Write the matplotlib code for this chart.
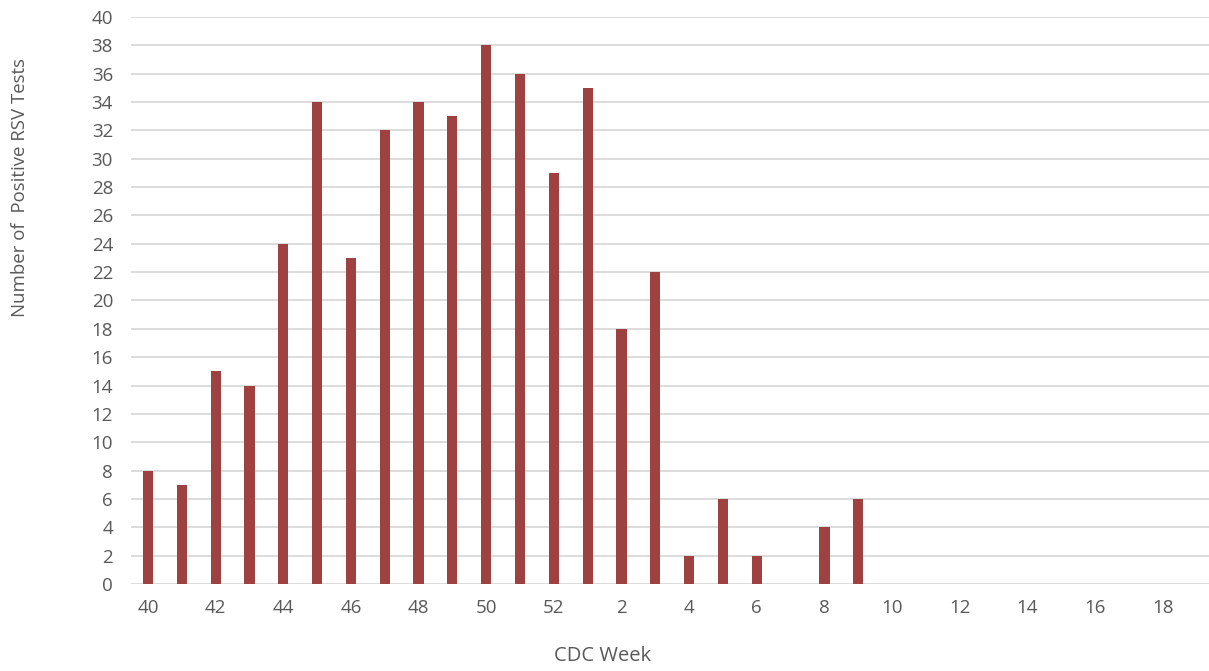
import numpy as np
import matplotlib
matplotlib.use("Agg")
import matplotlib.pyplot as plt

# CDC weeks 40-52 then 1-19
weeks = [str(w) for w in range(40, 53)] + [str(w) for w in range(1, 20)]
positives = [8, 7, 15, 14, 24, 34, 23, 32, 34, 33, 38, 36, 29,
             35, 18, 22, 2, 6, 2, 0, 4, 6,
             0, 0, 0, 0, 0, 0, 0, 0, 0, 0]

bar_color = "#9E4141"
grid_color = "#D9D9D9"
text_color = "#595959"

plt.rcParams['font.family'] = ['Open Sans', 'DejaVu Sans']

fig = plt.figure(figsize=(12.09, 6.71), dpi=100)
ax = fig.add_axes([0.1084, 0.1297, 0.8916, 0.845])

x = np.arange(len(weeks))
ax.bar(x, positives, width=0.3, color=bar_color, zorder=3)

ax.set_ylim(0, 40)
ax.set_yticks(range(0, 41, 2))
ax.set_xlim(-0.5, 31.37)
ax.set_xticks(x[::2])
ax.set_xticklabels(weeks[::2])

ax.grid(axis='y', color=grid_color, linewidth=1.3, zorder=0)
for s in ax.spines.values():
    s.set_visible(False)
ax.tick_params(length=0, colors=text_color, labelsize=13.5)
ax.tick_params(axis='x', pad=11)
ax.tick_params(axis='y', pad=13)

# axis titles placed like the original (not centred on the axes)
fig.text(0.498, 1 - 656 / 671, "CDC Week", color=text_color, fontsize=14.5,
         ha='center', va='center')
fig.text(0.0165, 1 - 188 / 671, "Number of  Positive RSV Tests", color=text_color,
         fontsize=13.4, rotation=90, ha='center', va='center')

fig.savefig("out.png", dpi=100)
